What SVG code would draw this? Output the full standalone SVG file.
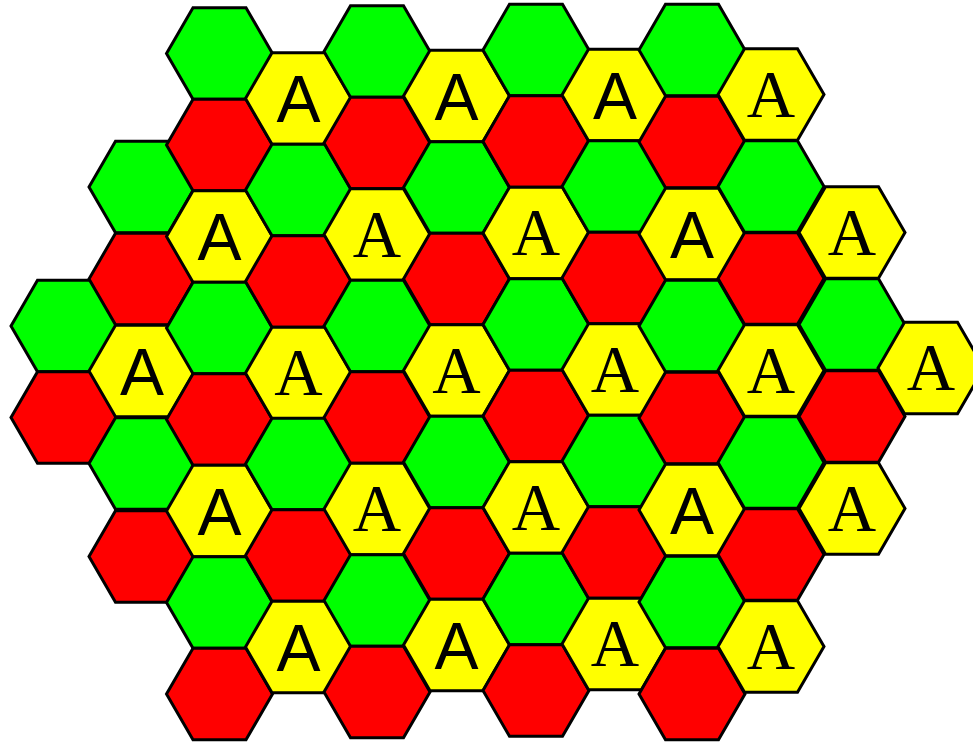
<svg xmlns="http://www.w3.org/2000/svg" xmlns:xlink="http://www.w3.org/1999/xlink" width="973" height="742" viewBox="0 0 973 742">
<style>
.hx{stroke:#000;stroke-width:3;stroke-linejoin:miter}
.g{fill:#00ff00}.r{fill:#ff0000}.y{fill:#ffff00}
.ts{font-family:"Liberation Sans",Arial,sans-serif;font-size:66px;fill:#000;text-anchor:middle}
.tr{font-family:"Liberation Serif","Times New Roman",serif;font-size:67px;fill:#000;text-anchor:middle}
</style>
<defs>
<polygon id="hex" points="-53,0 -26.5,-45.8 26.5,-45.8 53,0 26.5,45.8 -26.5,45.8"/>
</defs>
<rect width="973" height="742" fill="#fff"/>
<g id="c0">
<g id="h0_0" transform="translate(64,326)"><use href="#hex" class="hx g"/></g>
<g id="h0_1" transform="translate(64,417.5)"><use href="#hex" class="hx r"/></g>
</g>
<g id="c1">
<g id="h1_0" transform="translate(142,187)"><use href="#hex" class="hx g"/></g>
<g id="h1_1" transform="translate(142,279)"><use href="#hex" class="hx r"/></g>
<g id="h1_2" transform="translate(142,371)"><use href="#hex" class="hx y"/><text class="ts" y="23.5">A</text></g>
<g id="h1_3" transform="translate(142,463.5)"><use href="#hex" class="hx g"/></g>
<g id="h1_4" transform="translate(142,556.5)"><use href="#hex" class="hx r"/></g>
</g>
<g id="c2">
<g id="h2_0" transform="translate(219.5,53.5)"><use href="#hex" class="hx g"/></g>
<g id="h2_1" transform="translate(219.5,145)"><use href="#hex" class="hx r"/></g>
<g id="h2_2" transform="translate(219.5,236.5)"><use href="#hex" class="hx y"/><text class="ts" y="23.5">A</text></g>
<g id="h2_3" transform="translate(219.5,328)"><use href="#hex" class="hx g"/></g>
<g id="h2_4" transform="translate(219.5,419.5)"><use href="#hex" class="hx r"/></g>
<g id="h2_5" transform="translate(219.5,511)"><use href="#hex" class="hx y"/><text class="ts" y="23.5">A</text></g>
<g id="h2_6" transform="translate(219.5,602.5)"><use href="#hex" class="hx g"/></g>
<g id="h2_7" transform="translate(219.5,694)"><use href="#hex" class="hx r"/></g>
</g>
<g id="c3">
<g id="h3_0" transform="translate(298.5,98.5)"><use href="#hex" class="hx y"/><text class="ts" y="23.5">A</text></g>
<g id="h3_1" transform="translate(298.5,190)"><use href="#hex" class="hx g"/></g>
<g id="h3_2" transform="translate(298.5,281.5)"><use href="#hex" class="hx r"/></g>
<g id="h3_3" transform="translate(298.5,373)"><use href="#hex" class="hx y"/><text class="tr" y="22">A</text></g>
<g id="h3_4" transform="translate(298.5,464)"><use href="#hex" class="hx g"/></g>
<g id="h3_5" transform="translate(298.5,555.5)"><use href="#hex" class="hx r"/></g>
<g id="h3_6" transform="translate(298.5,647)"><use href="#hex" class="hx y"/><text class="ts" y="23.5">A</text></g>
</g>
<g id="c4">
<g id="h4_0" transform="translate(377,51.5)"><use href="#hex" class="hx g"/></g>
<g id="h4_1" transform="translate(377,143)"><use href="#hex" class="hx r"/></g>
<g id="h4_2" transform="translate(377,234.5)"><use href="#hex" class="hx y"/><text class="tr" y="22">A</text></g>
<g id="h4_3" transform="translate(377,326)"><use href="#hex" class="hx g"/></g>
<g id="h4_4" transform="translate(377,417.5)"><use href="#hex" class="hx r"/></g>
<g id="h4_5" transform="translate(377,509)"><use href="#hex" class="hx y"/><text class="tr" y="22">A</text></g>
<g id="h4_6" transform="translate(377,600.5)"><use href="#hex" class="hx g"/></g>
<g id="h4_7" transform="translate(377,692)"><use href="#hex" class="hx r"/></g>
</g>
<g id="c5">
<g id="h5_0" transform="translate(456.5,96)"><use href="#hex" class="hx y"/><text class="ts" y="23.5">A</text></g>
<g id="h5_1" transform="translate(456.5,187.5)"><use href="#hex" class="hx g"/></g>
<g id="h5_2" transform="translate(456.5,279)"><use href="#hex" class="hx r"/></g>
<g id="h5_3" transform="translate(456.5,370.5)"><use href="#hex" class="hx y"/><text class="tr" y="22">A</text></g>
<g id="h5_4" transform="translate(456.5,462)"><use href="#hex" class="hx g"/></g>
<g id="h5_5" transform="translate(456.5,553.5)"><use href="#hex" class="hx r"/></g>
<g id="h5_6" transform="translate(456.5,645)"><use href="#hex" class="hx y"/><text class="ts" y="23.5">A</text></g>
</g>
<g id="c6">
<g id="h6_0" transform="translate(536,50)"><use href="#hex" class="hx g"/></g>
<g id="h6_1" transform="translate(536,141.5)"><use href="#hex" class="hx r"/></g>
<g id="h6_2" transform="translate(536,233)"><use href="#hex" class="hx y"/><text class="tr" y="22">A</text></g>
<g id="h6_3" transform="translate(536,324.5)"><use href="#hex" class="hx g"/></g>
<g id="h6_4" transform="translate(536,416)"><use href="#hex" class="hx r"/></g>
<g id="h6_5" transform="translate(536,507.5)"><use href="#hex" class="hx y"/><text class="tr" y="22">A</text></g>
<g id="h6_6" transform="translate(536,599)"><use href="#hex" class="hx g"/></g>
<g id="h6_7" transform="translate(536,690.5)"><use href="#hex" class="hx r"/></g>
</g>
<g id="c7">
<g id="h7_0" transform="translate(615,95)"><use href="#hex" class="hx y"/><text class="ts" y="23.5">A</text></g>
<g id="h7_1" transform="translate(615,186.5)"><use href="#hex" class="hx g"/></g>
<g id="h7_2" transform="translate(615,278)"><use href="#hex" class="hx r"/></g>
<g id="h7_3" transform="translate(615,369.5)"><use href="#hex" class="hx y"/><text class="tr" y="22">A</text></g>
<g id="h7_4" transform="translate(615,461)"><use href="#hex" class="hx g"/></g>
<g id="h7_5" transform="translate(615,552.5)"><use href="#hex" class="hx r"/></g>
<g id="h7_6" transform="translate(615,644)"><use href="#hex" class="hx y"/><text class="tr" y="22">A</text></g>
</g>
<g id="c8">
<g id="h8_0" transform="translate(692,50)"><use href="#hex" class="hx g"/></g>
<g id="h8_1" transform="translate(692,142)"><use href="#hex" class="hx r"/></g>
<g id="h8_2" transform="translate(692,234)"><use href="#hex" class="hx y"/><text class="ts" y="23.5">A</text></g>
<g id="h8_3" transform="translate(692,326)"><use href="#hex" class="hx g"/></g>
<g id="h8_4" transform="translate(692,418)"><use href="#hex" class="hx r"/></g>
<g id="h8_5" transform="translate(692,510)"><use href="#hex" class="hx y"/><text class="ts" y="23.5">A</text></g>
<g id="h8_6" transform="translate(692,602)"><use href="#hex" class="hx g"/></g>
<g id="h8_7" transform="translate(692,694)"><use href="#hex" class="hx r"/></g>
</g>
<g id="c9">
<g id="h9_0" transform="translate(771,94.5)"><use href="#hex" class="hx y"/><text class="tr" y="22">A</text></g>
<g id="h9_1" transform="translate(771,186.5)"><use href="#hex" class="hx g"/></g>
<g id="h9_2" transform="translate(771,278.5)"><use href="#hex" class="hx r"/></g>
<g id="h9_3" transform="translate(771,370.5)"><use href="#hex" class="hx y"/><text class="tr" y="22">A</text></g>
<g id="h9_4" transform="translate(771,462.5)"><use href="#hex" class="hx g"/></g>
<g id="h9_5" transform="translate(771,554.5)"><use href="#hex" class="hx r"/></g>
<g id="h9_6" transform="translate(771,646.5)"><use href="#hex" class="hx y"/><text class="tr" y="22">A</text></g>
</g>
<g id="c10">
<g id="h10_0" transform="translate(852,232.5)"><use href="#hex" class="hx y"/><text class="tr" y="22">A</text></g>
<g id="h10_1" transform="translate(852,324.5)"><use href="#hex" class="hx g"/></g>
<g id="h10_2" transform="translate(852,416.5)"><use href="#hex" class="hx r"/></g>
<g id="h10_3" transform="translate(852,508.5)"><use href="#hex" class="hx y"/><text class="tr" y="22">A</text></g>
</g>
<g id="c11">
<g id="h11_0" transform="translate(931,368)"><use href="#hex" class="hx y"/><text class="tr" y="22">A</text></g>
</g>
<g id="connectors"/>
</svg>
